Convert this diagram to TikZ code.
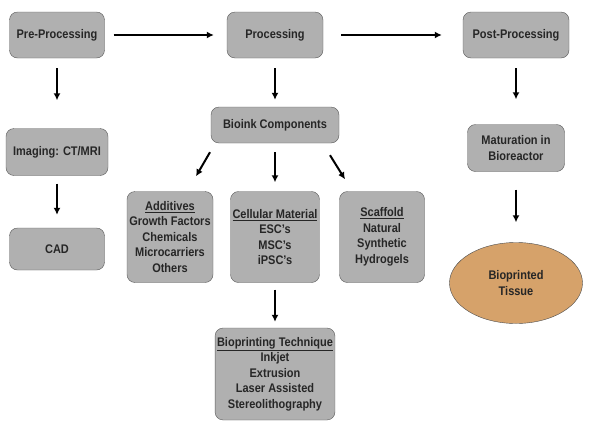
\documentclass[tikz,border=0pt]{standalone}
\usepackage{fontspec}
\setmainfont[FakeStretch=0.88]{Liberation Sans}
\usetikzlibrary{shapes.geometric,arrows.meta}
\definecolor{boxgray}{RGB}{176,176,176}
\definecolor{tissue}{RGB}{214,162,106}
\tikzset{
  stagebox/.style={draw=black!65, fill=boxgray, rounded corners=8pt, align=center,
    font=\bfseries\fontsize{12.5}{15.5}\selectfont, text=black!85, inner sep=2pt},
  tissuenode/.style={ellipse, draw=black!70, fill=tissue, align=center,
    font=\bfseries\fontsize{12.5}{15.5}\selectfont, text=black!85},
  arr/.style={-{Latex[length=7pt,width=7pt]}, line width=2pt}
}
\begin{document}
\begin{tikzpicture}[x=1pt, y=-1pt]
    \useasboundingbox[fill=white] (0,0) rectangle (590,421);

    % Top row
    \node[stagebox, minimum width=95pt, minimum height=46pt] (pre) at (57,35) {Pre-Processing};
    \node[stagebox, minimum width=96pt, minimum height=46pt] (proc) at (275,35) {Processing};
    \node[stagebox, minimum width=106pt, minimum height=46pt] (post) at (516,35) {Post-Processing};

    % Pre-processing branch
    \node[stagebox, minimum width=102pt, minimum height=47pt] (img) at (57,152) {Imaging: CT/MRI};
    \node[stagebox, minimum width=95pt, minimum height=42pt] (cad) at (57,249) {CAD};

    % Processing branch
    \node[stagebox, minimum width=128pt, minimum height=36pt] (bio) at (275,125) {Bioink Components};
    \node[stagebox, minimum width=86pt, minimum height=91pt] (add) at (170,237)
      {\underline{Additives}\\Growth Factors\\Chemicals\\Microcarriers\\Others};
    \node[stagebox, minimum width=86pt, minimum height=91pt] (cell) at (275,237)
      {\underline{Cellular Material}\\ESC's\\MSC's\\iPSC's};
    \node[stagebox, minimum width=85pt, minimum height=91pt] (scaf) at (382,237)
      {\underline{Scaffold}\\Natural\\Synthetic\\Hydrogels};
    \node[stagebox, minimum width=118pt, minimum height=92pt] (tech) at (275,374)
      {\underline{Bioprinting Technique}\\Inkjet\\Extrusion\\Laser Assisted\\Stereolithography};

    % Post-processing branch
    \node[stagebox, minimum width=97pt, minimum height=47pt] (mat) at (516,148) {Maturation in\\Bioreactor};
    \node[tissuenode, minimum width=133pt, minimum height=81pt] (tis) at (516,283) {Bioprinted\\Tissue};

    % Arrows
    \draw[arr, shorten <=9pt, shorten >=13pt] (pre) -- (proc);
    \draw[arr, shorten <=18pt, shorten >=21pt] (proc) -- (post);
    \draw[arr, shorten <=10pt, shorten >=28pt] (pre) -- (img);
    \draw[arr, shorten <=8pt, shorten >=13pt] (img) -- (cad);
    \draw[arr, shorten <=10pt, shorten >=7pt] (proc) -- (bio);
    \draw[arr] ([xshift=-65pt,yshift=-9pt]bio.south) -- ([xshift=26pt,yshift=15pt]add.north);
    \draw[arr, shorten <=9pt, shorten >=9pt] (bio) -- (cell);
    \draw[arr] ([xshift=55pt,yshift=-12pt]bio.south) -- ([xshift=-37pt,yshift=12pt]scaf.north);
    \draw[arr, shorten <=7pt, shorten >=6pt] (cell) -- (tech);
    \draw[arr, shorten <=10pt, shorten >=25pt] (post) -- (mat);
    \draw[arr, shorten <=18pt, shorten >=20pt] (mat) -- (tis);
\end{tikzpicture}
\end{document}
